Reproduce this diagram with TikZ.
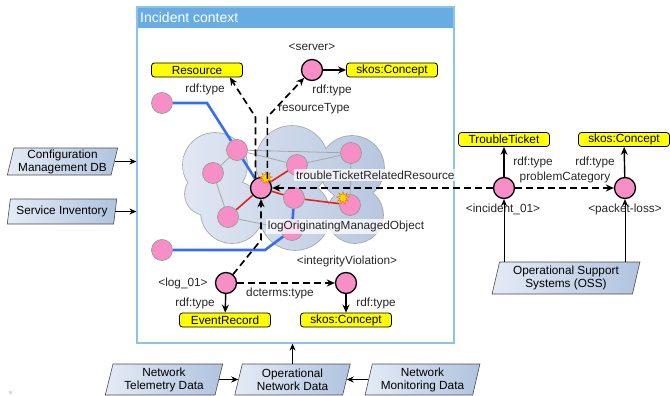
\documentclass[tikz,border=0pt]{standalone}
\usepackage{fontspec}
\setmainfont{Liberation Sans}
\usetikzlibrary{shapes.geometric,shapes.symbols,arrows.meta,calc}
\definecolor{pinkn}{RGB}{247,143,198}
\definecolor{hdr}{RGB}{104,173,226}
\definecolor{ctxb}{RGB}{140,195,235}
\definecolor{yel}{RGB}{255,255,0}
\definecolor{blu}{RGB}{55,110,240}
\definecolor{redl}{RGB}{235,30,30}
\definecolor{pl}{RGB}{228,235,246}
\definecolor{pr}{RGB}{176,195,222}
\definecolor{cl}{RGB}{226,232,243}
\definecolor{cr}{RGB}{182,198,223}
\definecolor{stary}{RGB}{255,215,0}
\pgfdeclarelayer{bg}
\pgfdeclarelayer{edges}
\pgfsetlayers{bg,edges,main}
\begin{document}
\begin{tikzpicture}[x=1pt,y=-1pt,font=\fontsize{11.8}{13}\selectfont,
 res/.style={circle,fill=pinkn,draw=gray!80,line width=0.7pt,minimum size=21pt,inner sep=0pt},
 rkey/.style={res,draw=black,line width=1.3pt},
 cls/.style={draw=black,fill=yel,rounded corners=3pt,minimum width=91pt,minimum height=14pt,inner sep=0pt,line width=0.8pt},
 para/.style={trapezium,trapezium left angle=76,trapezium right angle=104,trapezium stretches=true,draw=black!70,line width=0.6pt,left color=pl,right color=pr,align=center,inner sep=0pt},
 darr/.style={line width=1.7pt,dash pattern=on 7pt off 4pt,-{Stealth[length=8pt,width=7pt]}},
 sarr/.style={line width=1.4pt,-{Stealth[length=8pt,width=7pt]}},
 tarr/.style={line width=0.8pt,-{Stealth[length=7pt,width=6pt]}},
 lbl/.style={inner sep=1pt,text=black!85},
 wlbl/.style={lbl,fill=white,fill opacity=0.75,text opacity=1,inner sep=2pt},
 glin/.style={draw=gray!70,line width=0.8pt},
 rlin/.style={draw=redl,line width=1.6pt},
 blin/.style={draw=blu,line width=2.6pt},
 starb/.style={star,star points=9,star point ratio=2.1,fill=stary,draw=orange!90!black,line width=0.4pt,minimum size=13pt,inner sep=0pt}
]
\useasboundingbox (0,0) rectangle (670,396);
\fill[gray!35!blue!20] (9,391) rectangle (12,394);

% context box and cloud
\begin{pgfonlayer}{bg}
\fill[hdr] (137,7) rectangle (454,28);
\node[draw=ctxb,line width=1.2pt,minimum width=317pt,minimum height=336pt,inner sep=0pt] (ctx) at (295.5,175) {};
\draw[gray!70,line width=1.6pt]
  (215,165) circle[radius=32pt] (292,162) circle[radius=36pt]
  (352,168) circle[radius=32pt] (355,215) circle[radius=28pt]
  (295,215) circle[radius=35pt] (232,212) circle[radius=31pt]
  (206,194) circle[radius=21pt];
\begin{scope}
\clip (215,165) circle[radius=32pt] (292,162) circle[radius=36pt]
  (352,168) circle[radius=32pt] (355,215) circle[radius=28pt]
  (295,215) circle[radius=35pt] (232,212) circle[radius=31pt]
  (206,194) circle[radius=21pt];
\shade[left color=cl,right color=cr] (180,120) rectangle (390,255);
\end{scope}
\end{pgfonlayer}
\node[anchor=west,text=white,font=\fontsize{14}{16}\selectfont,inner sep=0pt] (ctxt) at (140,17.5) {Incident context};

% cloud nodes
\node[res] (A) at (237,150) {};
\node[res] (B) at (213,173) {};
\node[res] (C) at (228,217) {};
\node[res] (D) at (297,165) {};
\node[res] (E) at (351,153) {};
\node[res] (F) at (294,198) {};
\node[res] (G) at (350,205) {};
\node[res] (H) at (292,230) {};
\node[rkey] (X) at (261,188) {};
\node[res] (P) at (162,103) {};
\node[res] (Q) at (162,250) {};
\coordinate (pb) at (207,103);
\coordinate (qb) at (265,250);

\begin{pgfonlayer}{edges}
\draw[glin] (A) -- (B) -- (C);
\draw[glin] (A) -- (E);
\draw[glin] (A) -- (D) -- (E) -- (G);
\draw[glin] (C) -- (H);
\draw[rlin] (X) -- (D);
\draw[rlin] (X) -- (C);
\draw[rlin] (X) -- (F) -- (G);
\draw[blin] (P) -- (pb) -- (A) -- (X);
\draw[blin] (Q) -- (qb) -- (H) -- (F);
\end{pgfonlayer}

\node[starb] (s1) at (266,178) {};
\node[starb] (s2) at (343,198) {};

% top
\node[cls] (Res) at (197,70) {Resource};
\node[rkey] (srv) at (312,70) {};
\node[cls] (sc1) at (392,70) {skos:Concept};
\node[lbl] (srvl) at (312,47) {\textless server\textgreater};
\coordinate (k1) at (256,117);
\coordinate (k2) at (267,117);
\draw[darr] (X.120) -- (X.120 |- k1) -- ($(Res.south east)+(-13,0)$);
\draw[darr] (X.55) -- (X.55 |- k2) -- (srv.225);
\draw[sarr] (srv) -- (sc1);
\node[lbl] (l1) at (205,89) {rdf:type};
\node[lbl] (l2) at (332,90) {rdf:type};
\node[lbl] (l3) at (314,109) {resourceType};

% right
\node[rkey] (inc) at (504,188) {};
\node[rkey] (pkt) at (625,188) {};
\node[cls] (tt) at (504,139.5) {TroubleTicket};
\node[cls] (sc2) at (624,139.5) {skos:Concept};
\draw[sarr] (inc) -- (tt);
\draw[sarr] (pkt) -- (sc2);
\draw[darr] (inc) -- (pkt);
\draw[darr] (inc) -- (X);
\node[lbl] (l4) at (533,162) {rdf:type};
\node[lbl] (l5) at (595,162) {rdf:type};
\node[lbl] (l6) at (565,177) {problemCategory};
\node[lbl] (l7) at (503,209) {\textless incident\_01\textgreater};
\node[lbl] (l8) at (625,209) {\textless packet-loss\textgreater};
\node[wlbl,anchor=west] (l9) at (294,175) {troubleTicketRelatedResource};
\node[para,minimum width=148pt,minimum height=32pt] (oss) at (566,278) {Operational Support\\Systems (OSS)};
\draw[tarr] (inc |- oss.north) -- (inc);
\draw[tarr] (pkt |- oss.north) -- (pkt);

% bottom inside
\node[rkey] (log) at (226,283) {};
\node[rkey] (iv) at (346,283) {};
\node[cls] (ev) at (225,320) {EventRecord};
\node[cls] (sc3) at (346,320) {skos:Concept};
\draw[sarr] (log) -- (ev);
\draw[sarr] (iv) -- (sc3);
\draw[darr] (log) -- (iv);
\coordinate (k3) at (261,240);
\draw[darr] (log) -- (k3) -- (X);
\node[lbl] (l10) at (183,283) {\textless log\_01\textgreater};
\node[lbl] (l11) at (347,261) {\textless integrityViolation\textgreater};
\node[lbl] (l12) at (280,293) {dcterms:type};
\node[lbl] (l13) at (195,303) {rdf:type};
\node[lbl] (l14) at (376,303) {rdf:type};
\node[wlbl] (l15) at (346,226) {logOriginatingManagedObject};

% left sources
\node[para,minimum width=111pt,minimum height=27pt] (cmdb) at (62.5,161.5) {Configuration\\Management DB};
\node[para,minimum width=110pt,minimum height=25pt] (si) at (62,211.5) {Service Inventory};
\draw[tarr] (cmdb.east) -- (cmdb.east -| ctx.west);
\draw[tarr] (si.east) -- (si.east -| ctx.west);

% bottom sources
\node[para,minimum width=118pt,minimum height=31pt] (ntd) at (164,379.5) {Network\\Telemetry Data};
\node[para,minimum width=116pt,minimum height=31pt] (ond) at (292.5,379.5) {Operational\\Network Data};
\node[para,minimum width=116pt,minimum height=31pt] (nmd) at (422.5,379.5) {Network\\Monitoring Data};
\draw[tarr] (ntd.east) -- (ond.west);
\draw[tarr] (nmd.west) -- (ond.east);
\draw[tarr] (ond.north) -- (ond.north |- ctx.south);
\end{tikzpicture}
\end{document}
